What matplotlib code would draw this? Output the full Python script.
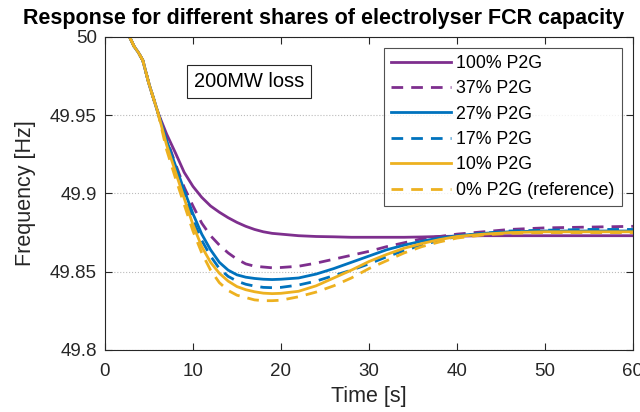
import matplotlib
matplotlib.use('Agg')
import matplotlib.pyplot as plt

matplotlib.rc('font', family='Liberation Sans', size=13.5)

t = [2.8, 3.3, 3.8, 4.3, 5.0, 6.0, 7, 8, 9, 10, 11, 12, 13, 14, 15, 16, 17, 18, 19, 20,
     22, 24, 26, 28, 30, 32, 34, 36, 38, 40, 43, 46, 50, 55, 60]
start = [50.0, 49.994, 49.990, 49.985, 49.970, 49.952]

p100 = start + [49.938, 49.926, 49.9135, 49.9045, 49.8975, 49.892, 49.888, 49.8845, 49.8815,
                49.879, 49.877, 49.8755, 49.8745, 49.874, 49.873, 49.8725, 49.8723, 49.872,
                49.872, 49.872, 49.872, 49.8722, 49.8725, 49.8727, 49.873, 49.873, 49.873,
                49.873, 49.873]
p37 = start + [49.935, 49.919, 49.904, 49.892, 49.881, 49.873, 49.867, 49.862, 49.858,
               49.855, 49.8535, 49.853, 49.8525, 49.8527, 49.8535, 49.8555, 49.858, 49.8605,
               49.863, 49.866, 49.8685, 49.871, 49.8725, 49.874, 49.8755, 49.877, 49.878,
               49.8785, 49.879]
p27 = start + [49.934, 49.918, 49.902, 49.887, 49.874, 49.864, 49.856, 49.851, 49.848,
               49.8465, 49.8457, 49.8452, 49.845, 49.8452, 49.846, 49.8485, 49.852, 49.856,
               49.860, 49.864, 49.867, 49.8695, 49.8715, 49.873, 49.8745, 49.8755, 49.876,
               49.876, 49.876]
p17 = start + [49.932, 49.915, 49.899, 49.883, 49.870, 49.860, 49.852, 49.847, 49.844,
               49.842, 49.8408, 49.840, 49.8398, 49.840, 49.8415, 49.844, 49.8475, 49.851,
               49.855, 49.8595, 49.8635, 49.867, 49.870, 49.8725, 49.8745, 49.876, 49.8765,
               49.877, 49.877]
p10 = start + [49.931, 49.914, 49.897, 49.880, 49.866, 49.856, 49.849, 49.844, 49.8405,
               49.8385, 49.8372, 49.8363, 49.836, 49.8362, 49.8375, 49.841, 49.846, 49.851,
               49.8565, 49.861, 49.865, 49.868, 49.8705, 49.8725, 49.874, 49.875, 49.8755,
               49.8755, 49.8755]
p0 = start + [49.928, 49.910, 49.893, 49.876, 49.862, 49.851, 49.843, 49.838, 49.835,
              49.8335, 49.832, 49.8315, 49.8315, 49.8318, 49.834, 49.837, 49.841, 49.846,
              49.852, 49.857, 49.862, 49.866, 49.869, 49.8715, 49.8735, 49.8745, 49.875,
              49.875, 49.875]

purple = '#7E2F8E'
blue = '#0072BD'
yellow = '#EDB120'
dark = '#262626'

fig = plt.figure(figsize=(6.4, 4.12), dpi=100)
ax = fig.add_axes([0.164, 0.1505, 0.825, 0.760])
lw = 2.0
dash = (0, (4.2, 2.9))
ax.plot(t, p100, color=purple, lw=lw, label='100% P2G')
ax.plot(t, p37, color=purple, lw=lw, linestyle=dash, label='37% P2G')
ax.plot(t, p27, color=blue, lw=lw, label='27% P2G')
ax.plot(t, p17, color=blue, lw=lw, linestyle=dash, label='17% P2G')
ax.plot(t, p10, color=yellow, lw=lw, label='10% P2G')
ax.plot(t, p0, color=yellow, lw=lw, linestyle=dash, label='0% P2G (reference)')

ax.set_xlim(0, 60)
ax.set_ylim(49.8, 50)
ax.set_xticks([0, 10, 20, 30, 40, 50, 60])
ax.set_yticks([49.8, 49.85, 49.9, 49.95, 50])
ax.set_yticklabels(['49.8', '49.85', '49.9', '49.95', '50'])
ax.tick_params(direction='in', top=True, right=True, length=5, colors=dark,
               labelcolor=dark)
ax.tick_params(axis='x', pad=9.5)
ax.tick_params(axis='y', pad=5.8)
for s in ax.spines.values():
    s.set_color(dark)
ax.grid(axis='y', linestyle=':', color='#bbbbbb', linewidth=0.8)
ax.set_axisbelow(True)

ax.set_xlabel('Time [s]', color=dark, fontsize=15.5, labelpad=4)
ax.set_ylabel('Frequency [Hz]', color=dark, fontsize=15.5, labelpad=10)
fig.suptitle('Response for different shares of electrolyser FCR capacity',
             fontweight='bold', fontsize=15.5, x=0.505, y=0.98, va='top')

ax.text(0.273, 0.859, '200MW loss', transform=ax.transAxes, fontsize=14.4,
        ha='center', va='center',
        bbox=dict(boxstyle='square,pad=0.35', fc='white', ec=dark, lw=0.8))

leg = ax.legend(loc='upper right', fontsize=12.8, frameon=True, fancybox=False,
                edgecolor=dark, handlelength=3.4, borderaxespad=0.6,
                labelspacing=0.47, handletextpad=0.28, borderpad=0.42)
leg.get_frame().set_linewidth(0.8)

plt.savefig('out.png', dpi=100)
